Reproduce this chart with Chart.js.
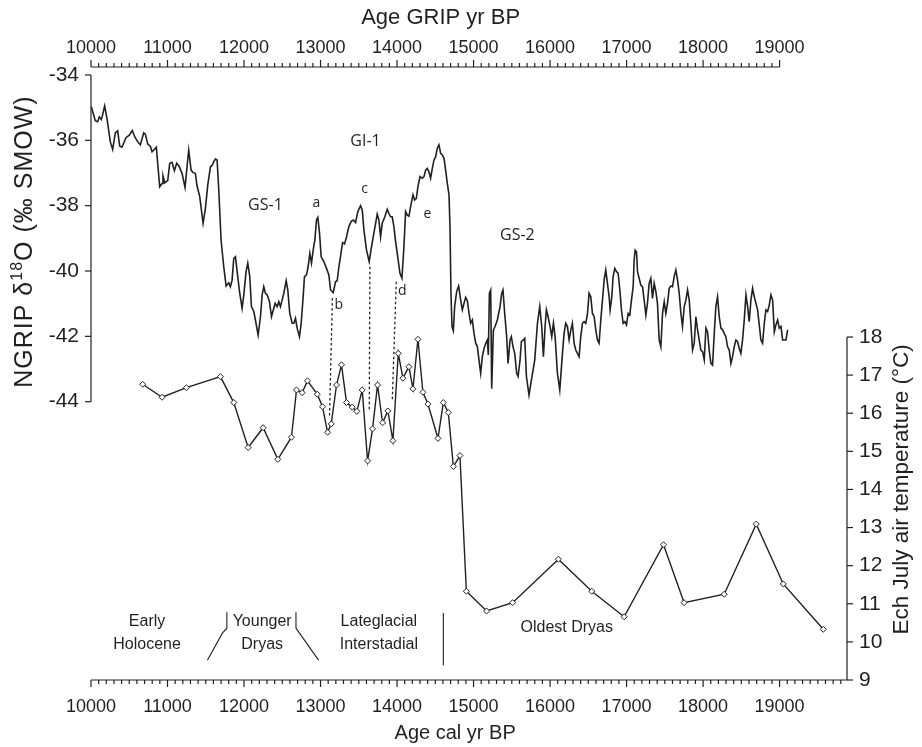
<!DOCTYPE html>
<html lang="en">
<head>
    <meta charset="UTF-8">
    <title>NGRIP and Ech July temperature</title>
    <script src="https://cdn.jsdelivr.net/npm/chart.js"></script>
    <style>
        body { margin: 0; background: #fff; }
        #wrap { width: 922px; height: 747px; position: relative; }
    </style>
</head>
<body>
<div id="wrap"><canvas id="chart"></canvas></div>
<script>
    // NGRIP d18O record (plotted on GRIP age scale, top axis)
    const ngripAge = [
        10004, 10056, 10087, 10109, 10135, 10148, 10178, 10209, 10252, 10283,
        10318, 10348, 10375, 10405, 10457, 10501, 10540, 10571, 10610, 10645,
        10689, 10710, 10741, 10776, 10798, 10828, 10854, 10898, 10928, 10941,
        10963, 11003, 11029, 11059, 11090, 11120, 11151, 11190, 11229, 11255,
        11277, 11308, 11334, 11364, 11386, 11421, 11465, 11495, 11526, 11561,
        11582, 11604, 11626, 11648, 11670, 11700, 11735, 11766, 11800, 11822,
        11844, 11866, 11888, 11918, 11944, 11975, 11997, 12027, 12049, 12075,
        12097, 12128, 12149, 12184, 12215, 12237, 12258, 12280, 12302, 12333,
        12359, 12381, 12407, 12433, 12455, 12476, 12498, 12520, 12551, 12572,
        12598, 12629, 12651, 12673, 12694, 12725, 12747, 12773, 12790, 12817,
        12838, 12860, 12882, 12904, 12926, 12947, 12965, 12987, 13008, 13043,
        13078, 13109, 13131, 13166, 13196, 13218, 13240, 13261, 13288, 13314,
        13340, 13370, 13401, 13427, 13458, 13488, 13523, 13545, 13567, 13601,
        13636, 13663, 13689, 13719, 13741, 13763, 13785, 13806, 13837, 13872,
        13894, 13916, 13937, 13959, 13981, 14003, 14038,
        14064, 14090, 14112, 14134, 14156, 14177, 14208, 14230, 14252, 14273,
        14300, 14330, 14352, 14374, 14395, 14417, 14439, 14461, 14483, 14505,
        14526, 14548, 14570, 14592, 14614, 14635, 14657, 14679, 14692, 14705,
        14718, 14736, 14753, 14779, 14805, 14832, 14853, 14875, 14897, 14919,
        14941, 14962, 14984, 15006, 15028, 15050, 15071, 15093, 15115, 15137,
        15159, 15180, 15193, 15207, 15224, 15237, 15259, 15281, 15311, 15346,
        15368, 15385, 15407, 15433, 15451, 15477, 15494, 15516, 15538, 15564,
        15582, 15608, 15625, 15651, 15669, 15691, 15725, 15756, 15800, 15835,
        15865, 15891, 15913, 15935, 15952, 15974, 16000, 16022, 16044, 16066,
        16096, 16127, 16162, 16183, 16205, 16227, 16249, 16271, 16292, 16314,
        16336, 16358, 16380, 16401, 16423, 16445, 16467, 16489, 16510, 16532,
        16554, 16576, 16598, 16619, 16641, 16663,
        16685, 16707, 16728, 16750, 16772, 16785, 16807, 16824, 16846, 16868,
        16890, 16912, 16933, 16955, 16977, 16999, 17021, 17042, 17064, 17086,
        17099, 17112, 17130, 17143, 17164, 17186, 17208, 17230, 17252, 17273,
        17295, 17317, 17339, 17361, 17383, 17404, 17426, 17448, 17470, 17492,
        17513, 17535, 17557, 17579, 17601, 17622, 17644, 17666, 17688, 17710,
        17731, 17753, 17775, 17797, 17819, 17840, 17862, 17884, 17906, 17928,
        17949, 17971, 17993, 18015, 18037, 18058, 18080, 18102, 18124, 18146,
        18167, 18189, 18211, 18233, 18255, 18276, 18298, 18320, 18342, 18364,
        18385, 18407, 18429, 18451, 18473, 18494, 18516, 18538, 18560, 18582,
        18603, 18625, 18647, 18669, 18691, 18713, 18734, 18756, 18778, 18800,
        18821, 18843, 18865, 18887, 18909, 18931, 18952, 18974, 18996, 19018,
        19040, 19061, 19083, 19105
    ];
    const ngripD18O = [
        -34.97, -35.40, -35.43, -35.28, -35.36, -35.26, -34.95, -35.33, -36.04, -36.28,
        -35.77, -35.71, -36.17, -36.21, -35.92, -35.84, -35.70, -35.89, -36.04, -36.14,
        -35.77, -35.81, -36.11, -36.19, -36.35, -36.28, -36.21, -37.42, -37.32, -37.09,
        -37.30, -37.23, -36.70, -36.67, -36.93, -36.70, -36.79, -37.01, -37.44, -36.81,
        -36.30, -36.91, -36.99, -37.01, -37.40, -37.72, -38.54, -38.08, -37.37, -36.81,
        -36.77, -36.65, -36.57, -36.60, -37.52, -39.05, -39.87, -40.46, -40.36, -40.48,
        -40.28, -39.61, -39.56, -40.17, -40.68, -41.14, -40.73, -40.02, -39.76, -40.17,
        -41.09, -41.24, -41.50, -41.96, -41.40, -40.73, -40.48, -40.68, -40.73, -40.94,
        -41.40, -41.21, -40.99, -41.09, -40.94, -41.09, -40.89, -40.68, -40.30, -40.58,
        -41.30, -41.60, -41.60, -41.45, -41.75, -42.01, -41.60, -40.79, -40.17, -40.12,
        -39.87, -39.46, -39.76, -39.36, -39.05, -38.44, -38.36, -38.85, -39.56, -39.71,
        -39.92, -40.12, -40.58, -40.66, -40.33, -40.30, -39.87, -39.56, -39.13, -39.17,
        -38.95, -38.64, -38.48, -38.44, -38.52, -38.18, -38.00, -38.13, -38.74, -39.36,
        -39.71, -39.31, -38.95, -38.56, -38.26, -38.44, -38.95, -38.54, -38.36, -38.11,
        -38.24, -38.34, -38.34, -38.64, -39.10, -39.46, -40.07,
        -40.22, -39.25, -38.18, -38.29, -38.32, -38.03, -37.67, -37.83, -37.78, -37.42,
        -37.11, -37.16, -37.11, -36.91, -36.86, -36.96, -37.16, -36.86, -36.60, -36.50,
        -36.24, -36.14, -36.40, -36.45, -36.55, -36.91, -37.32, -37.67, -38.64, -40.68,
        -41.70, -41.83, -41.09, -40.63, -40.46, -40.89, -41.19, -40.99, -40.81, -40.91,
        -41.30, -41.60, -41.50, -41.91, -42.21, -42.32, -42.72, -43.13, -42.62, -42.37,
        -42.21, -42.11, -42.57, -40.68, -40.58, -43.60, -41.81, -41.70, -41.50, -41.09,
        -40.68, -40.58, -41.30, -42.01, -42.83, -42.11, -42.01, -42.32, -42.52, -43.13,
        -43.23, -42.72, -42.16, -42.11, -42.06, -43.23, -43.80, -43.34, -42.72, -41.60,
        -41.09, -41.70, -42.62, -41.70, -41.19, -41.40, -41.70, -42.01, -41.60, -42.01,
        -43.13, -43.64, -42.52, -41.91, -41.60, -41.70, -42.11, -41.81, -41.60, -42.21,
        -42.42, -42.52, -42.62, -42.01, -41.60, -41.55, -41.60, -41.30, -40.68, -40.79,
        -41.30, -41.40, -41.81, -42.11, -42.21, -41.50,
        -40.89, -40.27, -39.97, -40.38, -40.79, -41.19, -40.79, -40.17, -39.92, -40.02,
        -40.07, -40.58, -41.19, -41.60, -41.55, -41.65, -41.30, -41.35, -40.89, -40.48,
        -39.66, -39.36, -39.41, -40.02, -40.22, -40.43, -40.48, -40.89, -41.35, -40.99,
        -40.38, -40.22, -40.84, -40.38, -40.63, -40.99, -42.11, -42.32, -41.30, -40.94,
        -41.30, -40.99, -40.53, -40.46, -40.48, -40.17, -39.97, -40.27, -40.68, -41.30,
        -41.70, -41.09, -40.89, -40.58, -40.89, -41.60, -42.42, -42.21, -41.40, -41.80,
        -42.11, -42.42, -42.47, -42.72, -41.75, -41.86, -42.42, -42.83, -42.88, -41.91,
        -41.09, -40.79, -41.40, -41.75, -41.80, -41.91, -42.01, -42.32, -42.42, -42.83,
        -42.62, -42.32, -42.11, -42.16, -42.37, -42.52, -42.11, -41.50, -40.73, -41.09,
        -41.55, -40.89, -40.53, -40.79, -40.99, -41.19, -41.65, -42.11, -42.21, -41.60,
        -41.19, -41.24, -41.04, -40.73, -40.89, -41.86, -41.65, -41.50, -41.75, -41.70,
        -42.11, -42.11, -42.11, -41.80
    ];

    // Ech chironomid-inferred July air temperature (cal yr BP, bottom axis)
    const echAge = [
        10675, 10929, 11247, 11692, 11866, 12054, 12250, 12442, 12620, 12686,
        12760, 12830, 12957, 13026, 13092, 13140, 13209, 13274, 13340, 13414,
        13475, 13545, 13615, 13680, 13745, 13811, 13880, 13946, 14016, 14077,
        14155, 14208, 14273, 14338, 14404, 14535, 14605, 14670, 14736, 14822,
        14906, 15171, 15511, 16109, 16545, 16968, 17483, 17752, 18276, 18695,
        19048, 19571
    ];
    const echTemp = [
        16.76, 16.42, 16.67, 16.96, 16.28, 15.10, 15.62, 14.79, 15.37, 16.61,
        16.54, 16.85, 16.50, 16.17, 15.50, 15.72, 16.74, 17.27, 16.28, 16.16,
        16.05, 16.61, 14.75, 15.59, 16.74, 15.75, 16.06, 15.28, 17.57, 16.92,
        17.22, 16.64, 17.94, 16.55, 16.24, 15.34, 16.28, 16.02, 14.60, 14.89,
        11.33, 10.81, 11.03, 12.17, 11.33, 10.66, 12.55, 11.03, 11.25, 13.09,
        11.52, 10.33
    ];

    // tick labels
    const ageTicks = [10000, 11000, 12000, 13000, 14000, 15000, 16000, 17000, 18000, 19000];
    const d18OTicks = [-34, -36, -38, -40, -42, -44];
    const tempTicks = [9, 10, 11, 12, 13, 14, 15, 16, 17, 18];

    // correlation tie points: NGRIP (GRIP age, d18O) -> Ech (cal age, temp)
    const tieNgripAge = [13155, 13645, 13990];
    const tieNgripD18O = [-40.83, -39.87, -40.33];
    const tieEchAge = [13117, 13637, 13938];
    const tieEchTemp = [15.90, 16.08, 16.35];

    // event labels on the NGRIP curve
    const eventText = ['GS-1', 'GI-1', 'GS-2', 'a', 'b', 'c', 'd', 'e'];
    const eventAge = [12280, 13588, 15573, 12947, 13239, 13575, 14069, 14396];
    const eventD18O = [-37.98, -36.04, -38.90, -37.93, -41.04, -37.50, -40.60, -38.25];

    // chronozones along the bottom
    const zoneLines = [
        ['Early', 'Holocene', 10733],
        ['Younger', 'Dryas', 12237],
        ['Lateglacial', 'Interstadial', 13762]
    ];
    const zoneBounds = [
        [[11521, 9.52], [11717, 10.23], [11776, 10.36], [11776, 10.78]],
        [[12679, 10.78], [12679, 10.36], [12725, 10.23], [12974, 9.52]],
        [[14605, 10.76], [14605, 9.39]]
    ];

    const ink = '#231f20';
    const numFont = '"Liberation Sans", Arial, sans-serif';
    const labelFont = '"Open Sans", "Noto Sans", sans-serif';

    function seg(ctx, x1, y1, x2, y2) {
        ctx.beginPath();
        ctx.moveTo(x1, y1);
        ctx.lineTo(x2, y2);
        ctx.stroke();
    }

    const paperAxes = {
        id: 'paperAxes',
        afterDatasetsDraw(chart) {
            const ctx = chart.ctx;
            const area = chart.chartArea;
            const sx = chart.scales.x, st = chart.scales.xTop;
            const sl = chart.scales.yL, sr = chart.scales.yR;
            ctx.save();
            ctx.strokeStyle = ink;
            ctx.fillStyle = ink;

            // dotted tie lines
            ctx.setLineDash([2.5, 2.5]);
            ctx.lineWidth = 1.3;
            tieNgripAge.forEach((a, i) => {
                seg(ctx, st.getPixelForValue(a), sl.getPixelForValue(tieNgripD18O[i]),
                    sx.getPixelForValue(tieEchAge[i]), sr.getPixelForValue(tieEchTemp[i]));
            });
            ctx.setLineDash([]);
            ctx.lineWidth = 1.2;

            // bottom axis
            const yb = area.bottom;
            seg(ctx, sx.getPixelForValue(10000), yb, area.right, yb);
            for (let a = 10000; a <= sx.max; a += 100) {
                const px = sx.getPixelForValue(a);
                seg(ctx, px, yb, px, yb + (a % 1000 === 0 ? 7 : 4));
            }
            // top axis
            const yt = area.top;
            const topEnd = ageTicks[ageTicks.length - 1];
            seg(ctx, st.getPixelForValue(10000), yt, st.getPixelForValue(topEnd), yt);
            for (let a = 10000; a <= topEnd; a += 100) {
                const px = st.getPixelForValue(a);
                seg(ctx, px, yt, px, yt - (a % 1000 === 0 ? 7 : 4));
            }
            // left axis
            const xl = area.left;
            seg(ctx, xl, sl.getPixelForValue(d18OTicks[0]), xl, sl.getPixelForValue(d18OTicks[d18OTicks.length - 1]));
            d18OTicks.forEach(v => {
                const py = sl.getPixelForValue(v);
                seg(ctx, xl, py, xl - 6, py);
            });
            // right axis
            const xr = area.right;
            seg(ctx, xr, sr.getPixelForValue(tempTicks[tempTicks.length - 1]), xr, yb);
            tempTicks.forEach(v => {
                const py = sr.getPixelForValue(v);
                seg(ctx, xr, py, xr + 6, py);
            });

            // tick labels
            ctx.font = '18px ' + numFont;
            ctx.textAlign = 'center';
            ctx.textBaseline = 'middle';
            ageTicks.forEach(a => {
                ctx.fillText(String(a), sx.getPixelForValue(a), yb + 27);
                ctx.fillText(String(a), st.getPixelForValue(a), yt - 19);
            });
            ctx.font = '21px ' + numFont;
            ctx.textAlign = 'right';
            d18OTicks.forEach(v => ctx.fillText(String(v), xl - 12, sl.getPixelForValue(v)));
            ctx.textAlign = 'left';
            tempTicks.forEach(v => ctx.fillText(String(v), xr + 12, sr.getPixelForValue(v)));

            // axis titles
            ctx.textAlign = 'center';
            ctx.font = '22px ' + numFont;
            ctx.fillText('Age GRIP yr BP', st.getPixelForValue(14570), 18);
            ctx.font = '20px ' + numFont;
            ctx.fillText('Age cal yr BP', sx.getPixelForValue(14760), yb + 53);

            // right title (reads bottom to top)
            ctx.save();
            ctx.translate(xr + 55, sr.getPixelForValue(14.0));
            ctx.rotate(-Math.PI / 2);
            ctx.font = '22.5px ' + numFont;
            ctx.fillText('Ech July air temperature (\u00B0C)', 0, 0);
            ctx.restore();

            // left title with superscript 18
            ctx.save();
            ctx.translate(25, sl.getPixelForValue(-39.1));
            ctx.rotate(-Math.PI / 2);
            ctx.letterSpacing = '1px';
            const big = '25px ' + numFont, small = '16px ' + numFont;
            const parts = [['NGRIP \u03B4', big, 0], ['18', small, -7], ['O (\u2030 SMOW)', big, 0]];
            let total = 0;
            parts.forEach(p => { ctx.font = p[1]; total += ctx.measureText(p[0]).width; });
            let cx = -total / 2;
            ctx.textAlign = 'left';
            parts.forEach(p => {
                ctx.font = p[1];
                ctx.fillText(p[0], cx, p[2]);
                cx += ctx.measureText(p[0]).width;
            });
            ctx.restore();

            // event labels
            ctx.textAlign = 'center';
            eventText.forEach((t, i) => {
                ctx.font = (t.length > 1 ? '16px ' : '14px ') + labelFont;
                ctx.fillText(t, st.getPixelForValue(eventAge[i]), sl.getPixelForValue(eventD18O[i]));
            });

            // chronozones
            ctx.font = '16px ' + numFont;
            zoneLines.forEach(z => {
                const px = sx.getPixelForValue(z[2]);
                ctx.fillText(z[0], px, sr.getPixelForValue(10.53));
                ctx.fillText(z[1], px, sr.getPixelForValue(9.92));
            });
            ctx.fillText('Oldest Dryas', sx.getPixelForValue(16218), sr.getPixelForValue(10.38));
            ctx.lineWidth = 1.1;
            zoneBounds.forEach(pts => {
                ctx.beginPath();
                pts.forEach((p, i) => {
                    const px = sx.getPixelForValue(p[0]), py = sr.getPixelForValue(p[1]);
                    if (i === 0) ctx.moveTo(px, py); else ctx.lineTo(px, py);
                });
                ctx.stroke();
            });
            ctx.restore();
        }
    };

    const ctx = document.getElementById('chart').getContext('2d');
    const chart = new Chart(ctx, {
        type: 'line',
        data: {
            datasets: [{
                label: 'NGRIP d18O',
                data: ngripAge.map((a, i) => ({ x: a, y: ngripD18O[i] })),
                xAxisID: 'xTop',
                yAxisID: 'yL',
                borderColor: ink,
                borderWidth: 1.6,
                pointRadius: 0,
                tension: 0
            }, {
                label: 'Ech July air temperature',
                data: echAge.map((a, i) => ({ x: a, y: echTemp[i] })),
                xAxisID: 'x',
                yAxisID: 'yR',
                borderColor: ink,
                borderWidth: 1.4,
                pointStyle: 'rectRot',
                pointRadius: 3,
                pointBackgroundColor: '#fff',
                pointBorderColor: ink,
                pointBorderWidth: 1,
                tension: 0
            }]
        },
        options: {
            responsive: true,
            maintainAspectRatio: false,
            animation: false,
            layout: { padding: { left: 91, right: 75, top: 67, bottom: 67 } },
            plugins: {
                legend: { display: false },
                tooltip: { enabled: false }
            },
            scales: {
                x: { type: 'linear', display: false, min: 10000, max: 19881 },
                xTop: { type: 'linear', display: false, min: 10000, max: 19881 },
                yL: { type: 'linear', display: false, min: -52.52, max: -33.755 },
                yR: { type: 'linear', display: false, min: 9, max: 25.085 }
            }
        },
        plugins: [paperAxes]
    });
</script>
</body>
</html>
